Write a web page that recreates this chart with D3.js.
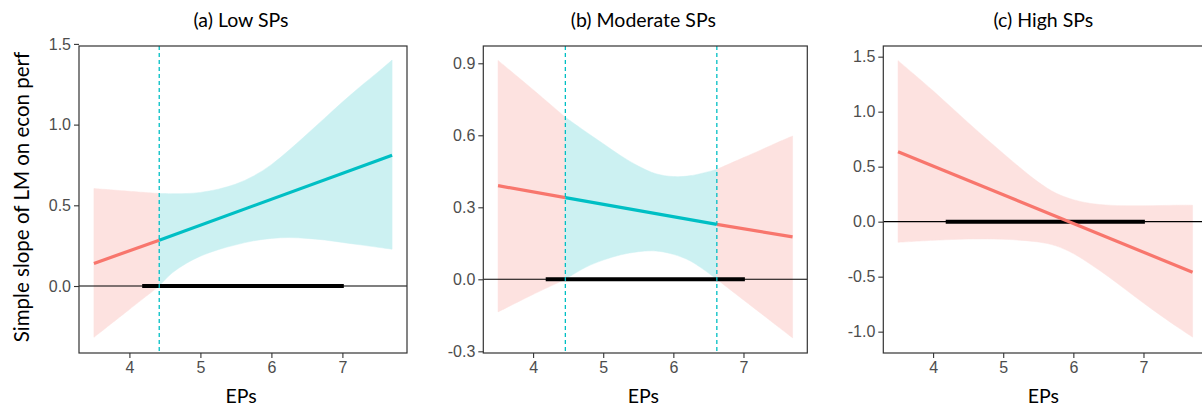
<!DOCTYPE html>
<html>
<head>
<meta charset="utf-8">
<script src="https://cdn.jsdelivr.net/npm/d3@7"></script>
<style>
  html, body { margin: 0; padding: 0; background: #fff; }
  svg { display: block; }
</style>
</head>
<body>
<svg id="chart" width="1202" height="409"></svg>
<script>
// ---------------- data ----------------
const panelTitles = ["(a) Low SPs", "(b) Moderate SPs", "(c) High SPs"];
const xTickValues = [4, 5, 6, 7];
const yTicksA = [0.0, 0.5, 1.0, 1.5];
const yTicksB = [-0.3, 0.0, 0.3, 0.6, 0.9];
const yTicksC = [-1.0, -0.5, 0.0, 0.5, 1.0, 1.5];
const yAxisTitle = "Simple slope of LM on econ perf";
const xAxisTitle = "EPs";

// Confidence band grids (EPs) and bounds
const gridA  = [3.5, 4.0, 4.42, 4.6, 4.8, 5.0, 5.25, 5.5, 5.75, 6.0, 6.25, 6.5, 6.75, 7.0, 7.25, 7.5, 7.7];
const upperA = [0.604, 0.587, 0.573, 0.572, 0.573, 0.580, 0.600, 0.632, 0.682, 0.752, 0.842, 0.940, 1.040, 1.140, 1.235, 1.325, 1.400];
const lowerA = [-0.318, -0.145, 0.0, 0.080, 0.140, 0.185, 0.225, 0.255, 0.280, 0.295, 0.300, 0.295, 0.285, 0.270, 0.255, 0.240, 0.228];

const gridB  = [3.5, 4.0, 4.46, 4.75, 5.0, 5.25, 5.5, 5.75, 6.0, 6.25, 6.62, 7.0, 7.25, 7.5, 7.7];
const upperB = [0.912, 0.790, 0.675, 0.615, 0.565, 0.515, 0.472, 0.440, 0.428, 0.432, 0.458, 0.507, 0.539, 0.572, 0.597];
const lowerB = [-0.136, -0.063, 0.0, 0.050, 0.080, 0.102, 0.115, 0.118, 0.104, 0.075, 0.0, -0.086, -0.142, -0.199, -0.244];

const gridC  = [3.5, 4.0, 4.5, 5.0, 5.5, 5.75, 6.0, 6.25, 6.5, 6.75, 7.0, 7.25, 7.5, 7.7];
const upperC = [1.464, 1.190, 0.900, 0.620, 0.360, 0.260, 0.200, 0.165, 0.150, 0.145, 0.145, 0.147, 0.150, 0.150];
const lowerC = [-0.188, -0.170, -0.158, -0.160, -0.185, -0.220, -0.290, -0.390, -0.500, -0.620, -0.740, -0.855, -0.965, -1.050];

// Simple slope lines (EPs, slope)
const lineXA = [3.5, 4.42, 7.7];        const lineYA = [0.140, 0.284, 0.810];
const lineXB = [3.5, 4.46, 6.62, 7.7];  const lineYB = [0.390, 0.340, 0.229, 0.177];
const lineXC = [3.5, 7.7];              const lineYC = [0.636, -0.460];

// Johnson–Neyman region of significance [from, to]
const jnA = [4.42, 7.7];
const jnB = [4.46, 6.62];
const jnC = null;
// Dashed boundary lines
const jnLinesA = [4.42];
const jnLinesB = [4.46, 6.62];
const jnLinesC = [];

// Observed range of EPs (thick black bar on zero line)
const observedRange = [4.18, 7.02];

// X domain and Y domains
const xDomain = [3.29, 7.91];
const yDomainA = [-0.415, 1.487];
const yDomainB = [-0.307, 0.972];
const yDomainC = [-1.194, 1.597];

// ---------------- style ----------------
const RED = "#F8766D", CYAN = "#00BFC4";
const RED_FILL = "#FDE2E0", CYAN_FILL = "#CCF1F2";
const TOP = 46, BOTTOM = 353;

const panels = [
  {title: panelTitles[0], left: 79,    right: 407,    grid: gridA, up: upperA, lo: lowerA, lx: lineXA, ly: lineYA, jn: jnA, jnLines: jnLinesA, yTicks: yTicksA, yDomain: yDomainA},
  {title: panelTitles[1], left: 483.3, right: 807.3,  grid: gridB, up: upperB, lo: lowerB, lx: lineXB, ly: lineYB, jn: jnB, jnLines: jnLinesB, yTicks: yTicksB, yDomain: yDomainB},
  {title: panelTitles[2], left: 883.3, right: 1207.3, grid: gridC, up: upperC, lo: lowerC, lx: lineXC, ly: lineYC, jn: jnC, jnLines: jnLinesC, yTicks: yTicksC, yDomain: yDomainC}
];
const fmt = d3.format(".1f");

const svg = d3.select("#chart");
const defs = svg.append("defs");

panels.forEach((p, i) => {
  const x = d3.scaleLinear().domain(xDomain).range([p.left, p.right]);
  const y = d3.scaleLinear().domain(p.yDomain).range([BOTTOM, TOP]);
  const g = svg.append("g");

  defs.append("clipPath").attr("id", "clip" + i)
    .append("rect").attr("x", p.left).attr("y", TOP)
    .attr("width", p.right - p.left).attr("height", BOTTOM - TOP);
  const plot = g.append("g").attr("clip-path", `url(#clip${i})`);

  const pts = p.grid.map((gx, k) => ({x: gx, up: p.up[k], lo: p.lo[k]}));
  const inSig = v => p.jn && v >= p.jn[0] - 1e-9 && v <= p.jn[1] + 1e-9;

  // split band into regions
  const first = p.grid[0], last = p.grid[p.grid.length - 1];
  const bounds = [first].concat(p.jn ? p.jn.filter(v => v > first && v < last) : [], [last]);
  const area = d3.area().x(d => x(d.x)).y0(d => y(d.lo)).y1(d => y(d.up)).curve(d3.curveCatmullRom.alpha(0.5));
  for (let k = 0; k < bounds.length - 1; k++) {
    const a = bounds[k], b = bounds[k + 1];
    const seg = pts.filter(d => d.x >= a - 1e-9 && d.x <= b + 1e-9);
    const mid = (a + b) / 2;
    plot.append("path").datum(seg)
      .attr("d", area)
      .attr("fill", inSig(mid) ? CYAN_FILL : RED_FILL)
      .attr("stroke", inSig(mid) ? CYAN_FILL : RED_FILL)
      .attr("stroke-width", 0.5);
  }

  // zero line
  plot.append("line")
    .attr("x1", p.left).attr("x2", p.right)
    .attr("y1", y(0)).attr("y2", y(0))
    .attr("stroke", "#000").attr("stroke-width", 1.1);

  // observed range bar
  plot.append("line")
    .attr("x1", x(observedRange[0])).attr("x2", x(observedRange[1]))
    .attr("y1", y(0)).attr("y2", y(0))
    .attr("stroke", "#000").attr("stroke-width", 4);

  // slope line in pieces
  const lpts = p.lx.map((lx, k) => ({x: lx, y: p.ly[k]}));
  const lineGen = d3.line().x(d => x(d.x)).y(d => y(d.y));
  for (let k = 0; k < lpts.length - 1; k++) {
    const mid = (lpts[k].x + lpts[k + 1].x) / 2;
    plot.append("path").datum([lpts[k], lpts[k + 1]])
      .attr("d", lineGen)
      .attr("fill", "none")
      .attr("stroke", inSig(mid) ? CYAN : RED)
      .attr("stroke-width", 3.2)
      .attr("stroke-linecap", "butt");
  }

  // dashed JN lines
  p.jnLines.forEach(v => {
    plot.append("line")
      .attr("x1", x(v)).attr("x2", x(v))
      .attr("y1", TOP).attr("y2", BOTTOM)
      .attr("stroke", CYAN).attr("stroke-width", 1.3)
      .attr("stroke-dasharray", "4,3");
  });

  // axes
  const yAxis = d3.axisLeft(y).tickValues(p.yTicks).tickFormat(d => d < 0 ? "-" + fmt(-d) : fmt(d)).tickSize(5).tickPadding(3);
  const xAxis = d3.axisBottom(x).tickValues(xTickValues).tickFormat(d3.format("d")).tickSize(5).tickPadding(4);
  const ya = g.append("g").attr("transform", `translate(${p.left},0)`).call(yAxis);
  const xa = g.append("g").attr("transform", `translate(0,${BOTTOM})`).call(xAxis);
  [ya, xa].forEach(ax => {
    ax.select(".domain").remove();
    ax.selectAll(".tick line").attr("stroke", "#333").attr("stroke-width", 1.1);
    ax.selectAll(".tick text").attr("fill", "#4D4D4D")
      .style("font-family", "'Liberation Sans', Arial, sans-serif").style("font-size", "16px");
  });

  // frame
  g.append("rect")
    .attr("x", p.left).attr("y", TOP)
    .attr("width", p.right - p.left).attr("height", BOTTOM - TOP)
    .attr("fill", "none").attr("stroke", "#333").attr("stroke-width", 1.2);

  // titles
  const cx = (p.left + p.right) / 2 - 2;
  g.append("text").text(p.title)
    .attr("x", cx).attr("y", 27).attr("text-anchor", "middle")
    .style("font-family", "Lato, 'Open Sans', sans-serif").style("font-size", "19.5px").attr("fill", "#000");
  g.append("text").text(xAxisTitle)
    .attr("x", cx).attr("y", 403).attr("text-anchor", "middle")
    .style("font-family", "Lato, 'Open Sans', sans-serif").style("font-size", "19.5px").attr("fill", "#000");
});

// y axis title
svg.append("text").text(yAxisTitle)
  .attr("transform", "translate(29,197) rotate(-90)")
  .attr("text-anchor", "middle")
  .style("font-family", "Lato, 'Open Sans', sans-serif").style("font-size", "20.5px").attr("fill", "#000");
</script>
</body>
</html>
